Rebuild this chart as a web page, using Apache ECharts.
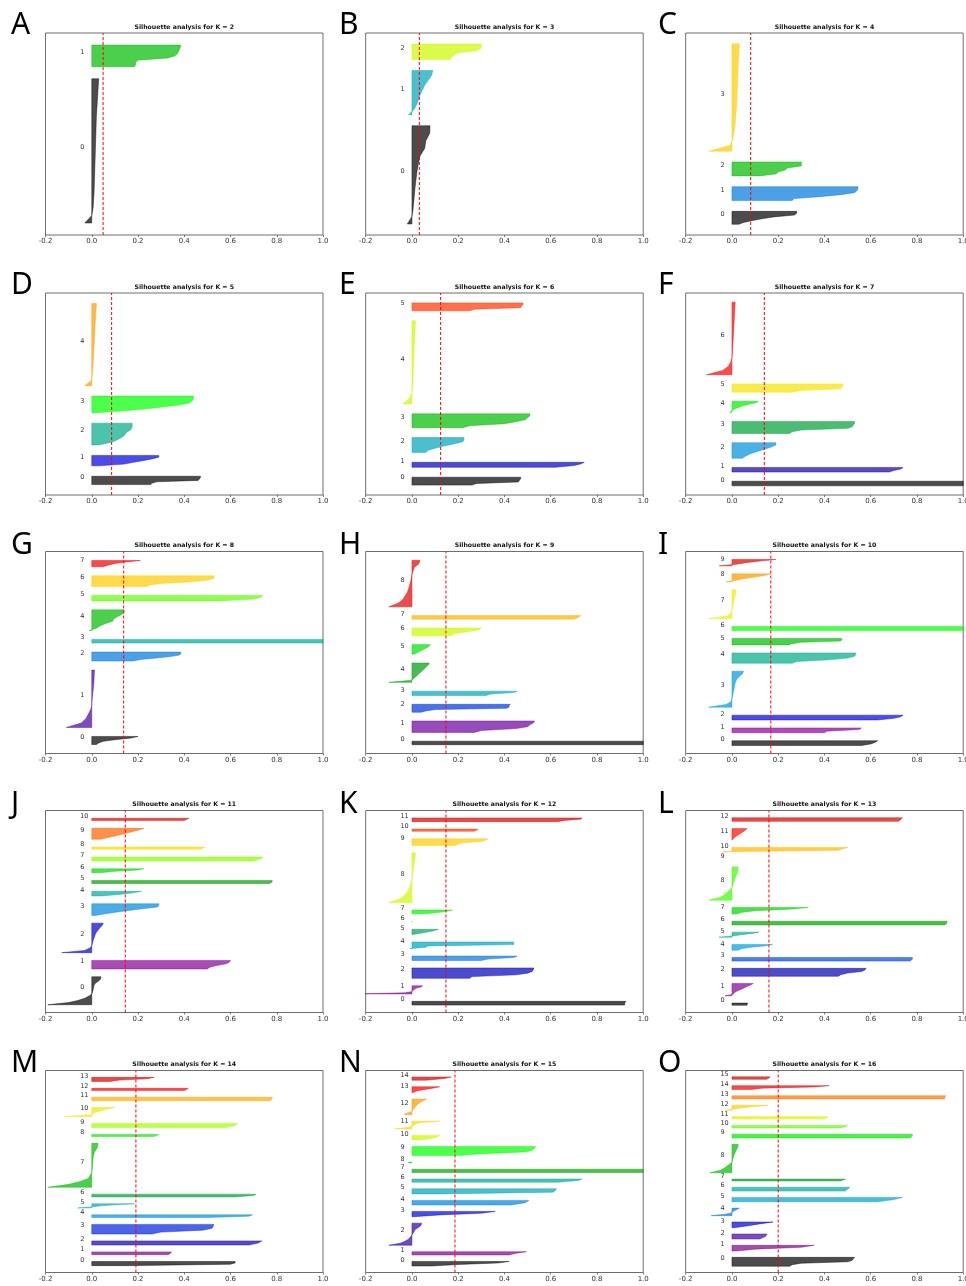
<!DOCTYPE html>
<html>
<head>
<meta charset="utf-8">
<script src="https://cdn.jsdelivr.net/npm/echarts@6.0.0/dist/echarts.min.js"></script>
<style>
  html, body { margin: 0; padding: 0; background: #fff; }
  #chart { width: 966px; height: 1286px; }
</style>
</head>
<body>
<div id="chart"></div>
<script>
// ---- data ----
var kValues = [2, 3, 4, 5, 6, 7, 8, 9, 10, 11, 12, 13, 14, 15, 16];
var panelLetters = ['A', 'B', 'C', 'D', 'E', 'F', 'G', 'H', 'I', 'J', 'K', 'L', 'M', 'N', 'O'];
// average silhouette score (red dashed line)
var meanScores = [0.049, 0.032, 0.081, 0.086, 0.124, 0.14, 0.138, 0.147, 0.168, 0.145, 0.147, 0.16, 0.191, 0.186, 0.2];
var xTicks = [-0.2, 0.0, 0.2, 0.4, 0.6, 0.8, 1.0];

// cluster sizes (samples) and sorted silhouette values, top of cluster -> bottom
var sizesK2 = [120, 18];
var silK2 = [
  [0.03, 0.028, 0.026, 0.024, 0.022, 0.02, 0.019, 0.018, 0.017, 0.016, 0.015, 0.014, 0.013, 0.012, 0.011, 0.01, 0.008, 0.006, 0.0, -0.03],
  [0.385, 0.383, 0.38, 0.375, 0.37, 0.36, 0.33, 0.2, 0.19, 0.19, 0.185]
];
var sizesK3 = [89, 40, 14];
var silK3 = [
  [0.078, 0.077, 0.06, 0.055, 0.035, 0.028, 0.022, 0.018, 0.014, 0.011, 0.008, 0.005, 0.0, -0.02],
  [0.09, 0.085, 0.07, 0.055, 0.045, 0.035, 0.028, 0.02, 0.008, -0.015],
  [0.30, 0.30, 0.298, 0.28, 0.2, 0.185, 0.17, 0.165]
];
var sizesK4 = [12, 13, 13, 100];
var silK4 = [
  [0.28, 0.28, 0.27, 0.18, 0.13, 0.09, 0.05, 0.03],
  [0.545, 0.545, 0.54, 0.53, 0.47, 0.38, 0.27, 0.26],
  [0.30, 0.30, 0.30, 0.24, 0.23, 0.2, 0.19, 0.12],
  [0.032, 0.031, 0.03, 0.028, 0.027, 0.026, 0.025, 0.024, 0.023, 0.022, 0.021, 0.02, 0.018, 0.016, 0.014, 0.011, 0.007, 0.003, -0.01, -0.1]
];
var sizesK5 = [8, 10, 21, 16, 79];
var silK5 = [
  [0.47, 0.47, 0.465, 0.46, 0.28, 0.26, 0.255],
  [0.29, 0.29, 0.26, 0.22, 0.18, 0.14, 0.03],
  [0.175, 0.175, 0.17, 0.15, 0.14, 0.12, 0.09, 0.03],
  [0.44, 0.44, 0.435, 0.42, 0.36, 0.27, 0.17, 0.02],
  [0.02, 0.019, 0.017, 0.016, 0.014, 0.013, 0.012, 0.011, 0.01, 0.008, 0.007, 0.006, 0.004, 0.002, 0.0, -0.03]
];
var sizesK6 = [8, 5, 15, 14, 84, 8];
var silK6 = [
  [0.47, 0.47, 0.465, 0.46, 0.28, 0.26],
  [0.745, 0.73, 0.7, 0.62],
  [0.225, 0.225, 0.22, 0.18, 0.14, 0.1, 0.07, 0.06],
  [0.51, 0.51, 0.5, 0.49, 0.45, 0.4, 0.25, 0.22],
  [0.015, 0.014, 0.013, 0.012, 0.011, 0.01, 0.009, 0.008, 0.007, 0.006, 0.005, 0.004, 0.002, 0.0, -0.01, -0.04],
  [0.48, 0.48, 0.475, 0.47, 0.27, 0.25]
];
var sizesK7 = [5, 5, 17, 13, 12, 9, 79];
var silK7 = [
  [1.0, 1.0, 1.0],
  [0.74, 0.73, 0.7, 0.68],
  [0.19, 0.19, 0.17, 0.14, 0.11, 0.08, 0.06, 0.045],
  [0.53, 0.53, 0.525, 0.52, 0.5, 0.3, 0.26, 0.25],
  [0.115, 0.1, 0.07, 0.045, 0.025, 0.01, 0.0, -0.01],
  [0.48, 0.48, 0.475, 0.47, 0.3, 0.26],
  [0.014, 0.013, 0.012, 0.011, 0.01, 0.009, 0.008, 0.007, 0.006, 0.005, 0.004, 0.003, 0.002, 0.0, -0.005, -0.015, -0.04, -0.11]
];
var sizesK8 = [9, 64, 10, 4, 23, 6, 12, 7];
var silK8 = [
  [0.2, 0.17, 0.1, 0.05, 0.03, 0.02],
  [0.012, 0.011, 0.01, 0.009, 0.007, 0.005, 0.003, 0.001, 0.0, -0.005, -0.015, -0.025, -0.045, -0.11],
  [0.385, 0.385, 0.38, 0.34, 0.28, 0.21, 0.18],
  [1.0, 1.0, 1.0],
  [0.14, 0.14, 0.13, 0.11, 0.095, 0.09, 0.06, 0.035, 0.02, -0.01],
  [0.74, 0.73, 0.7, 0.55],
  [0.53, 0.53, 0.525, 0.5, 0.42, 0.3, 0.25, 0.24],
  [0.21, 0.15, 0.1, 0.07, 0.05]
];
var sizesK9 = [4, 13, 9, 5, 22, 11, 9, 4, 53];
var silK9 = [
  [1.0, 1.0],
  [0.53, 0.525, 0.51, 0.5, 0.45, 0.3, 0.27],
  [0.425, 0.42, 0.42, 0.41, 0.1, 0.06, 0.04],
  [0.455, 0.44, 0.34, 0.32],
  [0.075, 0.07, 0.06, 0.05, 0.04, 0.03, 0.02, 0.01, 0.0, -0.1],
  [0.08, 0.07, 0.05, 0.03, 0.01],
  [0.3, 0.29, 0.24, 0.18, 0.17],
  [0.73, 0.72, 0.7],
  [0.035, 0.03, 0.01, 0.005, 0.0, -0.003, -0.006, -0.01, -0.015, -0.02, -0.03, -0.04, -0.06, -0.1]
];
var sizesK10 = [6, 6, 6, 45, 13, 8, 5, 36, 10, 8];
var silK10 = [
  [0.63, 0.62, 0.6, 0.56],
  [0.56, 0.55, 0.41, 0.4],
  [0.74, 0.73, 0.7, 0.63],
  [0.05, 0.045, 0.03, 0.02, 0.015, 0.012, 0.01, 0.008, 0.005, 0.003, 0.0, -0.005, -0.025, -0.1],
  [0.535, 0.535, 0.53, 0.5, 0.42, 0.28, 0.26],
  [0.475, 0.475, 0.47, 0.3, 0.26, 0.245],
  [1.0, 1.0, 1.0],
  [0.018, 0.017, 0.015, 0.012, 0.009, 0.006, 0.004, 0.002, 0.0, -0.005, -0.02, -0.1],
  [0.17, 0.14, 0.1, 0.05, 0.02, -0.025],
  [0.19, 0.12, 0.06, 0.02, -0.055]
];
var sizesK11 = [36, 11, 38, 15, 6, 4, 5, 5, 3, 14, 3];
var silK11 = [
  [0.04, 0.038, 0.03, 0.015, 0.01, 0.008, 0.006, 0.004, 0.0, -0.012, -0.03, -0.06, -0.1, -0.19],
  [0.6, 0.595, 0.58, 0.54, 0.51, 0.5],
  [0.05, 0.045, 0.035, 0.028, 0.02, 0.015, 0.012, 0.008, 0.005, 0.003, 0.0, -0.01, -0.03, -0.13],
  [0.29, 0.29, 0.285, 0.22, 0.16, 0.11, 0.06, 0.015],
  [0.215, 0.18, 0.12, 0.04],
  [0.78, 0.78, 0.77],
  [0.225, 0.2, 0.1, 0.04],
  [0.74, 0.73, 0.7],
  [0.49, 0.48, 0.47],
  [0.225, 0.2, 0.17, 0.14, 0.11, 0.07, 0.04],
  [0.42, 0.41, 0.4]
];
var sizesK12 = [5, 11, 14, 6, 9, 7, 1, 5, 67, 9, 3, 5];
var silK12 = [
  [0.925, 0.92, 0.92],
  [0.046, 0.04, 0.02, 0.01, 0.005, 0.0, -0.03, -0.25],
  [0.527, 0.525, 0.52, 0.5, 0.45, 0.26, 0.25],
  [0.455, 0.44, 0.33, 0.3],
  [0.44, 0.44, 0.44, 0.07, 0.06, -0.01],
  [0.115, 0.09, 0.05, 0.005],
  [0.0],
  [0.175, 0.14, 0.06],
  [0.015, 0.014, 0.012, 0.01, 0.008, 0.006, 0.004, 0.002, 0.0, -0.004, -0.008, -0.014, -0.022, -0.035, -0.055, -0.1],
  [0.33, 0.32, 0.3, 0.22, 0.2, 0.185],
  [0.285, 0.28, 0.27],
  [0.735, 0.73, 0.66, 0.63]
];
var sizesK13 = [3, 17, 11, 5, 8, 7, 5, 9, 46, 1, 6, 16, 5];
var silK13 = [
  [0.068, 0.066, 0.065],
  [0.092, 0.08, 0.065, 0.05, 0.035, 0.02, 0.01, 0.005, -0.03],
  [0.58, 0.575, 0.56, 0.5, 0.47, 0.46],
  [0.78, 0.78, 0.77],
  [0.175, 0.14, 0.08, 0.04, 0.027],
  [0.117, 0.09, 0.04, 0.005, -0.056],
  [0.93, 0.93, 0.92],
  [0.33, 0.25, 0.1, 0.04, 0.02],
  [0.027, 0.026, 0.024, 0.02, 0.015, 0.012, 0.008, 0.003, 0.0, -0.01, -0.022, -0.035, -0.055, -0.1],
  [0.0],
  [0.5, 0.48, 0.46, -0.04],
  [0.066, 0.05, 0.03, 0.012, 0.0],
  [0.737, 0.73, 0.72]
];
var sizesK14 = [6, 4, 6, 14, 4, 6, 4, 64, 3, 6, 13, 5, 3, 6];
var silK14 = [
  [0.62, 0.62, 0.6, 0.14],
  [0.345, 0.34, 0.33],
  [0.735, 0.72, 0.68],
  [0.528, 0.525, 0.52, 0.48, 0.3, 0.26],
  [0.695, 0.68, 0.5],
  [0.185, 0.1, 0.04, 0.0, -0.06],
  [0.71, 0.7, 0.62],
  [0.027, 0.026, 0.02, 0.012, 0.008, 0.006, 0.005, 0.004, 0.003, 0.002, 0.0, -0.008, -0.015, -0.05, -0.1, -0.19],
  [0.29, 0.28, 0.27],
  [0.63, 0.62, 0.58],
  [0.1, 0.06, 0.03, 0.01, 0.0, -0.12],
  [0.78, 0.78, 0.77],
  [0.417, 0.41, 0.4],
  [0.27, 0.24, 0.12, 0.08]
];
var sizesK15 = [7, 5, 34, 8, 7, 8, 5, 5, 1, 14, 7, 12, 24, 9, 5];
var silK15 = [
  [0.42, 0.37, 0.2, 0.085],
  [0.495, 0.45, 0.42],
  [0.042, 0.04, 0.03, 0.015, 0.01, 0.005, 0.0, -0.008, -0.015, -0.03, -0.05, -0.1],
  [0.36, 0.3, 0.12, 0.01],
  [0.505, 0.49, 0.43],
  [0.625, 0.62, 0.61, 0.13],
  [0.735, 0.72, 0.63],
  [1.0, 1.0, 1.0],
  [-0.015],
  [0.535, 0.53, 0.52, 0.49, 0.3, 0.2],
  [0.12, 0.1, 0.04],
  [0.12, 0.03, 0.015, 0.005, -0.02, -0.075],
  [0.063, 0.05, 0.035, 0.025, 0.018, 0.012, 0.006, 0.0, -0.02, -0.035],
  [0.12, 0.09, 0.05, 0.02, 0.005],
  [0.17, 0.14, 0.06]
];
var sizesK16 = [14, 9, 8, 9, 12, 7, 6, 3, 45, 6, 4, 4, 8, 5, 6, 4];
var silK16 = [
  [0.53, 0.525, 0.52, 0.5, 0.3, 0.26, 0.25],
  [0.355, 0.3, 0.1, 0.02],
  [0.152, 0.145, 0.12],
  [0.178, 0.12, 0.07, 0.01],
  [0.032, 0.02, 0.006, 0.0, -0.03, -0.09],
  [0.737, 0.7, 0.63],
  [0.51, 0.5, 0.49],
  [0.49, 0.48, 0.47],
  [0.027, 0.026, 0.02, 0.015, 0.01, 0.006, 0.003, 0.0, -0.015, -0.03, -0.05, -0.095],
  [0.78, 0.78, 0.77],
  [0.5, 0.49, 0.47],
  [0.416, 0.41, 0.4],
  [0.157, 0.08, 0.02, -0.03],
  [0.925, 0.92, 0.92],
  [0.42, 0.36, 0.13, 0.085],
  [0.165, 0.16, 0.15]
];

var clusterSizes = [sizesK2, sizesK3, sizesK4, sizesK5, sizesK6, sizesK7, sizesK8, sizesK9,
  sizesK10, sizesK11, sizesK12, sizesK13, sizesK14, sizesK15, sizesK16];
var clusterSil = [silK2, silK3, silK4, silK5, silK6, silK7, silK8, silK9,
  silK10, silK11, silK12, silK13, silK14, silK15, silK16];

// ---- nipy_spectral colormap (matplotlib) ----
var spectralStops = {
  r: [0, .4667, .5333, 0, 0, 0, 0, 0, 0, 0, 0, 0, 0, .7333, .9333, 1, 1, 1, .8667, .8, .8],
  g: [0, 0, 0, 0, 0, .4667, .6, .6667, .6667, .6, .7333, .8667, 1, 1, .9333, .8, .6, 0, 0, 0, .8],
  b: [0, .5333, .6, .6667, .8667, .8667, .8667, .6667, .5333, 0, 0, 0, 0, 0, 0, 0, 0, 0, 0, 0, .8]
};
function spectral(t) {
  var p = t * 20, i = Math.min(Math.floor(p), 19), f = p - i;
  function ch(a) { return Math.round(255 * (a[i] + (a[i + 1] - a[i]) * f)); }
  return 'rgb(' + ch(spectralStops.r) + ',' + ch(spectralStops.g) + ',' + ch(spectralStops.b) + ')';
}

// ---- layout ----
var colLeft = [45.5, 365.7, 685.7];
var rowTop = [33, 293, 551.5, 810.5, 1070.5];
var boxW = 277.5, boxH = 202;
var letterX = [11, 339, 658];
var letterY = [25, 285, 545, 804, 1063];

var chart = echarts.init(document.getElementById('chart'));

var grids = [], xAxes = [], yAxes = [], series = [], graphics = [];

kValues.forEach(function (k, p) {
  var col = p % 3, row = Math.floor(p / 3);
  var sizes = clusterSizes[p], sil = clusterSil[p];
  var total = sizes.reduce(function (a, b) { return a + b; }, 0);
  var yMax = total + (k + 1) * 10;
  var lowers = [], yl = 10;
  sizes.forEach(function (s) { lowers.push(yl); yl += s + 10; });
  var colors = sizes.map(function (s, i) { return spectral(i / k); });

  grids.push({
    left: colLeft[col], top: rowTop[row], width: boxW, height: boxH,
    outerBoundsMode: 'none', containLabel: false,
    show: true, borderColor: '#6e6e6e', borderWidth: 1, backgroundColor: '#fff'
  });
  xAxes.push({
    gridIndex: p, type: 'value',
    min: xTicks[0], max: xTicks[xTicks.length - 1], interval: 0.2,
    axisLine: { show: false },
    axisTick: { show: true, length: 2, lineStyle: { color: '#555', width: 0.8 } },
    splitLine: { show: false },
    axisLabel: {
      fontSize: 7, color: '#333', margin: 3, fontFamily: 'DejaVu Sans',
      formatter: function (v) { return v.toFixed(1); }
    }
  });
  yAxes.push({ gridIndex: p, type: 'value', min: 0, max: yMax, show: false });

  // silhouette shapes
  series.push({
    type: 'custom', xAxisIndex: p, yAxisIndex: p, clip: true, silent: true,
    data: sizes.map(function (s, i) { return [i]; }),
    renderItem: function (params, api) {
      var i = params.dataIndex;
      var prof = sil[i], lo = lowers[i], hi = lo + sizes[i], n = prof.length;
      var pts = [api.coord([0, hi])];
      prof.forEach(function (v, j) {
        var y = n === 1 ? hi : hi - (hi - lo) * j / (n - 1);
        pts.push(api.coord([v, y]));
      });
      if (n === 1) pts.push(api.coord([prof[0], lo]));
      pts.push(api.coord([0, lo]));
      return {
        type: 'polygon', shape: { points: pts },
        style: { fill: colors[i], stroke: colors[i], lineWidth: 0.6, opacity: 0.7 }
      };
    }
  });

  // cluster labels at x = -0.05
  series.push({
    type: 'custom', xAxisIndex: p, yAxisIndex: p, silent: true,
    data: sizes.map(function (s, i) { return [i]; }),
    renderItem: function (params, api) {
      var i = params.dataIndex;
      var pt = api.coord([-0.05, lowers[i] + 0.5 * sizes[i]]);
      return {
        type: 'text', x: pt[0], y: pt[1],
        style: {
          text: String(i), fill: '#333', fontSize: 6.5, fontFamily: 'DejaVu Sans',
          align: 'left', verticalAlign: 'bottom'
        }
      };
    }
  });

  // average silhouette score
  series.push({
    type: 'line', xAxisIndex: p, yAxisIndex: p, silent: true, symbol: 'none',
    data: [[meanScores[p], 0], [meanScores[p], yMax]],
    lineStyle: { color: '#ff0000', width: 1, type: [3, 2] },
    z: 5
  });

  graphics.push({
    type: 'text', x: colLeft[col] + boxW / 2, y: rowTop[row] - 6,
    style: {
      text: 'Silhouette analysis for K = ' + k, fill: '#111',
      font: 'bold 6.2px "DejaVu Sans"', align: 'center', verticalAlign: 'middle'
    }
  });
  graphics.push({
    type: 'text', x: letterX[col], y: letterY[row],
    style: {
      text: panelLetters[p], fill: '#000',
      font: '30px "Noto Sans"', align: 'left', verticalAlign: 'middle'
    }
  });
});

chart.setOption({
  animation: false,
  backgroundColor: '#fff',
  grid: grids,
  xAxis: xAxes,
  yAxis: yAxes,
  series: series,
  graphic: graphics
});
</script>
</body>
</html>
